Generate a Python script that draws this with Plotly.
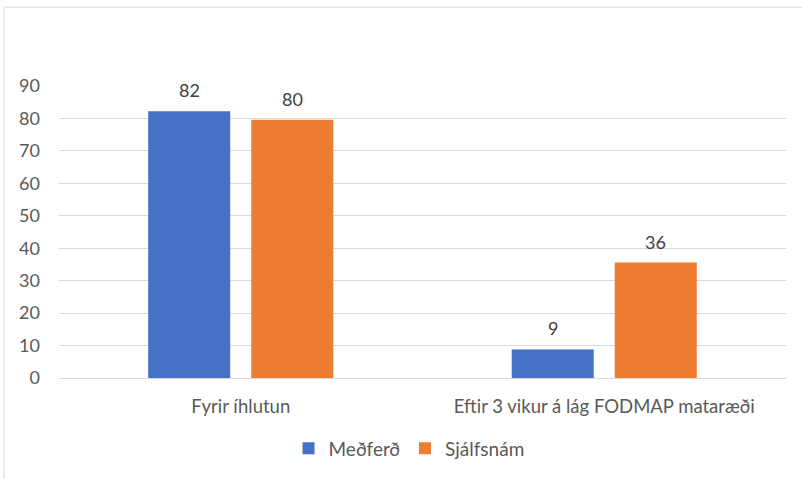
import plotly.graph_objects as go

categories = ["Fyrir íhlutun", "Eftir 3 vikur á lág FODMAP mataræði"]
medferd = [82.2, 8.8]
sjalfsnam = [79.6, 35.6]
series_names = ["Meðferð", "Sjálfsnám"]
series_colors = ["#4472C4", "#ED7D31"]
y_ticks = [0, 10, 20, 30, 40, 50, 60, 70, 80, 90]

FONT = "Lato, Open Sans, sans-serif"

W, H = 802, 479
L, R, T, B = 59, 16, 86, 100.5
plot_w = W - L - R
plot_h = H - T - B
BARGAP, BARGROUPGAP = 0.433, 0.204

fig = go.Figure()
for name, vals, col in zip(series_names, [medferd, sjalfsnam], series_colors):
    fig.add_trace(go.Bar(
        x=categories, y=vals, name=name,
        marker=dict(color=col, line=dict(width=0)),
    ))

# data labels, placed above each bar via annotations anchored on the data
slot_px = plot_w / len(categories) * (1 - BARGAP) / 2
for i, vals in enumerate([medferd, sjalfsnam]):
    xs = (i - 0.5) * slot_px
    for c, v in zip(categories, vals):
        fig.add_annotation(x=c, y=v, text=f"{v:.0f}", showarrow=False,
                           xshift=xs, yshift=21, yanchor="middle",
                           font=dict(family=FONT, size=18, color="#404040"))

def py(p):
    return (H - B - p) / plot_h

def px(p):
    return (p - L) / plot_w

fig.update_layout(
    width=W, height=H,
    margin=dict(l=L, r=R, t=T, b=B),
    paper_bgcolor="white", plot_bgcolor="white",
    barmode="group", bargap=BARGAP, bargroupgap=BARGROUPGAP,
    font=dict(family=FONT, size=16, color="#595959"),
    showlegend=True,
    legend=dict(orientation="h", x=px(409), xanchor="center", y=py(449), yanchor="middle",
                font=dict(family=FONT, size=19, color="#595959"),
                itemwidth=30, traceorder="normal"),
    xaxis=dict(showgrid=False, showline=True, linecolor="#d9d9d9", linewidth=1,
               ticks="", tickfont=dict(family=FONT, size=18.5, color="#595959"),
               ticklabelstandoff=12),
    yaxis=dict(range=[0, 90], tickvals=y_ticks, showgrid=True, gridcolor="#d9d9d9",
               gridwidth=1, zeroline=False, showline=False, ticks="",
               tickfont=dict(family=FONT, size=18, color="#595959"), ticklabelstandoff=18),
    shapes=[
        dict(type="line", xref="paper", yref="paper", x0=px(4), x1=px(4), y0=py(7), y1=py(480),
             line=dict(color="#d9d9d9", width=1)),
        dict(type="line", xref="paper", yref="paper", x0=px(4), x1=px(802), y0=py(7), y1=py(7),
             line=dict(color="#d9d9d9", width=1)),
    ],
)

fig.write_html("out.html", config={"displayModeBar": False},
               post_script="document.body.style.margin='0';")
